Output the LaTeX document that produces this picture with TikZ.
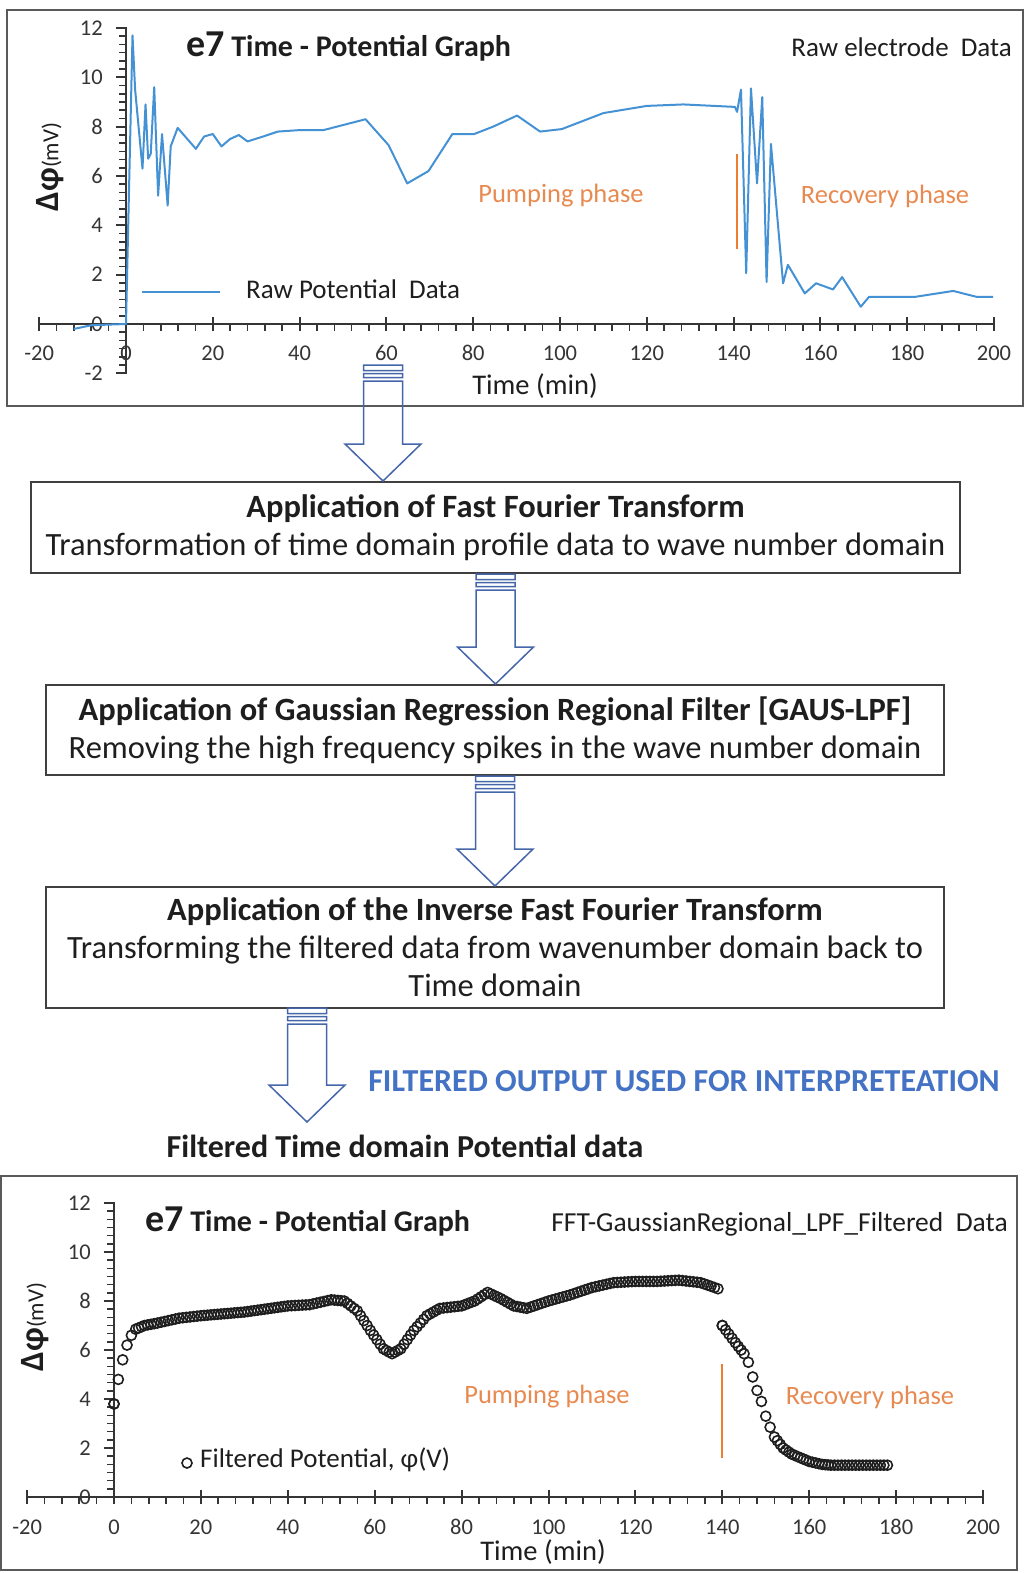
\documentclass[tikz,border=0pt]{standalone}
\usepackage{fontspec}
\setmainfont{Carlito}
\usetikzlibrary{calc}

\definecolor{rawblue}{RGB}{68,145,212}
\definecolor{phaseorange}{RGB}{237,125,49}
\definecolor{phasetext}{RGB}{232,138,80}
\definecolor{arrowblue}{RGB}{70,102,170}
\definecolor{notecolor}{RGB}{68,114,196}
\definecolor{framegray}{RGB}{90,90,90}
\definecolor{inkgray}{RGB}{30,30,30}

% hollow striped block arrow from a tail point #1 down to a tip point #2
\newcommand\flowarrow[2]{%
  \draw[arrowline] let \p1=(#1), \p2=(#2) in
    (\x1-19.5pt,\y1) rectangle (\x1+19.5pt,\y1-5.5pt)
    (\x1-19.5pt,\y1-8.5pt) rectangle (\x1+19.5pt,\y1-12.5pt)
    (\x1-19.5pt,\y1-16pt) -- (\x1-19.5pt,\y2+37pt) -- (\x1-38pt,\y2+37pt)
    -- (\x1,\y2) -- (\x1+38pt,\y2+37pt) -- (\x1+19.5pt,\y2+37pt)
    -- (\x1+19.5pt,\y1-16pt) -- cycle;}

\tikzset{
  frame/.style={draw=framegray, line width=2pt, inner sep=0pt},
  stepbox/.style={draw=inkgray!85, line width=2pt, inner sep=0pt, align=center,
    text=inkgray, font=\fontsize{32.5}{38}\selectfont},
  arrowline/.style={draw=arrowblue, line width=1.5pt, line join=miter},
  axisline/.style={draw=inkgray!90, line width=2pt},
  tickline/.style={draw=inkgray!90, line width=1.6pt},
  ticklabel/.style={inner sep=0pt, text=inkgray!90, font=\fontsize{22.5}{22.5}\selectfont},
  phase/.style={inner sep=0pt, text=phasetext, font=\fontsize{26.5}{26.5}\selectfont},
  plaintext/.style={inner sep=0pt, text=inkgray, font=\fontsize{27}{27}\selectfont},
  fmark/.style={draw=inkgray, line width=1.6pt},
}

\begin{document}
\begin{tikzpicture}[x=1pt, y=-1pt]
\useasboundingbox (0,0) rectangle (1028,1573);

% ---------- raw electrode chart ----------
\node[frame, minimum width=1016pt, minimum height=396pt] (rawplot) at (515,208) {};

\begin{scope}[shift={(126,324)}, x=4.34pt, y=24.67pt]
  % axes and ticks
  \foreach \k in {-6,...,36} \draw[tickline] (-1.6,\k/3) -- (0,\k/3);
  \foreach \t in {-16,-12,...,196} \draw[tickline] (\t,0) -- (\t,-0.28);
  \foreach \v in {-2,0,...,12} \draw[axisline] (-2.4,\v) -- (0.3,\v);
  \foreach \t in {-20,0,...,200} \draw[axisline] (\t,-0.3) -- (\t,0.3);
  \draw[axisline] (-20,0) -- (200,0);
  \draw[axisline] (0,-2) -- (0,12);
  \foreach \v in {-2,0,...,12} \node[ticklabel, anchor=east] at (-5.3,\v) {\v};
  \foreach \t in {-20,0,...,200} \node[ticklabel] at (\t,-1.18) {\t};
  % raw potential trace
  \draw[rawblue, line width=2pt, line join=round]
    (-12,-0.2) -- (-8,-0.05) -- (0,0) -- (1.5,11.7) -- (2.1,9.5) -- (3.8,6.3)
    -- (4.5,8.9) -- (5.1,6.7) -- (5.7,6.9) -- (6.5,9.6) -- (7.4,5.2) -- (8.3,7.7)
    -- (9.6,4.8) -- (10.3,7.2) -- (11.9,7.95) -- (16.1,7.1) -- (18,7.6) -- (20,7.7)
    -- (22,7.2) -- (24,7.5) -- (26,7.66) -- (28,7.4) -- (31.6,7.6) -- (35,7.8)
    -- (40,7.86) -- (45.5,7.86) -- (50.8,8.1) -- (55.2,8.3) -- (60.5,7.25)
    -- (64.8,5.7) -- (69.7,6.2) -- (75.2,7.7) -- (80.2,7.7) -- (84.6,8.0)
    -- (90.1,8.45) -- (95.4,7.8) -- (100.4,7.9) -- (110,8.55) -- (120,8.84)
    -- (128.4,8.9) -- (140.3,8.8) -- (140.8,8.6) -- (141.7,9.5) -- (142.9,2.06)
    -- (144,9.55) -- (145.4,5.7) -- (146.6,9.2) -- (147.6,1.7) -- (148.6,7.3)
    -- (151.4,1.65) -- (152.5,2.4) -- (156.4,1.24) -- (159,1.65) -- (162.9,1.4)
    -- (165,1.9) -- (169.3,0.7) -- (171.2,1.1) -- (181.8,1.1) -- (190.6,1.34)
    -- (196,1.1) -- (199.8,1.1);
  % phase boundary
  \draw[phaseorange, line width=2pt] (140.7,6.9) -- (140.7,3.05);
\end{scope}

\node[inner sep=0pt, anchor=base west, text=inkgray] (rawtitle) at (186,57)
  {\fontsize{38}{38}\selectfont\bfseries e7\fontsize{30}{30}\selectfont{} Time - Potential Graph};
\node[plaintext, anchor=base east] (rawtag) at (1012,57) {Raw electrode\ \ Data};
\node[phase] (rawpump) at (561,196) {Pumping phase};
\node[phase] (rawrecov) at (885,196) {Recovery phase};
\draw[rawblue, line width=2pt] (142,292) -- (220,292);
\node[plaintext, anchor=west] (rawlegend) at (246,289) {Raw Potential\ \ Data};
\node[plaintext, font=\fontsize{28.5}{28.5}\selectfont] (rawxlabel) at (535,386) {Time (min)};
\node[inner sep=0pt, rotate=90, text=inkgray] (rawylabel) at (50,167)
  {\fontsize{34}{34}\selectfont\bfseries Δφ\fontsize{23}{23}\selectfont\mdseries(mV)};

% ---------- processing steps ----------
\node[stepbox, minimum width=929pt, minimum height=91pt] (fft) at (495.5,527.5)
  {\textbf{Application of Fast Fourier Transform}\\
   Transformation of time domain profile data to wave number domain};
\node[stepbox, minimum width=898pt, minimum height=90pt] (gauss) at (495,730)
  {\textbf{Application of Gaussian Regression Regional Filter [GAUS-LPF]}\\
   Removing the high frequency spikes in the wave number domain};
\node[stepbox, minimum width=898pt, minimum height=121pt] (ifft) at (495,947.5)
  {\textbf{Application of the Inverse Fast Fourier Transform}\\
   Transforming the filtered data from wavenumber domain back to\\
   Time domain};

\node[inner sep=0pt, text=inkgray, font=\fontsize{32}{32}\selectfont\bfseries]
  (filtlabel) at (405,1146) {Filtered Time domain Potential data};
\node[inner sep=0pt, text=notecolor, font=\fontsize{32}{32}\selectfont\bfseries]
  (usenote) at (684,1081) {FILTERED OUTPUT USED FOR INTERPRETEATION};

\coordinate (a1) at (383,365);
\coordinate (a4) at (307,1008);
\coordinate (a4tip) at (307,1122);
\flowarrow{a1}{fft.north -| a1}
\flowarrow{fft.south}{gauss.north}
\flowarrow{gauss.south}{ifft.north}
\flowarrow{a4}{a4tip}

% ---------- filtered chart ----------
\node[frame, minimum width=1016pt, minimum height=394pt] (filtplot) at (509,1373) {};

\begin{scope}[shift={(114,1497)}, x=4.345pt, y=24.5pt]
  \foreach \k in {0,...,36} \draw[tickline] (-1.6,\k/3) -- (0,\k/3);
  \foreach \t in {-16,-12,...,196} \draw[tickline] (\t,0) -- (\t,-0.28);
  \foreach \v in {0,2,...,12} \draw[axisline] (-2.4,\v) -- (0.3,\v);
  \foreach \t in {-20,0,...,200} \draw[axisline] (\t,-0.3) -- (\t,0.3);
  \draw[axisline] (-20,0) -- (200,0);
  \draw[axisline] (0,-0.2) -- (0,12);
  \foreach \v in {0,2,...,12} \node[ticklabel, anchor=east] at (-5.3,\v) {\v};
  \foreach \t in {-20,0,...,200} \node[ticklabel] at (\t,-1.22) {\t};
  % filtered potential samples, pumping phase
  \foreach \t/\v [remember=\t as \tp (initially 0), remember=\v as \vp (initially 3.8)] in
    {0/3.8, 1/4.8, 2/5.6, 3/6.2, 4/6.6, 5/6.85, 7/7.0, 10/7.1, 15/7.3, 20/7.4,
     30/7.55, 40/7.8, 45/7.85, 50/8.05, 53/8.0, 56/7.6, 59/6.8, 62/6.05, 64/5.85,
     66/6.05, 69/6.8, 72/7.4, 75/7.7, 80/7.8, 83/8.0, 86/8.35, 89/8.1, 92/7.8,
     95/7.7, 100/8.0, 105/8.25, 110/8.55, 115/8.75, 120/8.8, 125/8.8, 130/8.85,
     135/8.75, 139/8.5}
  {
    \pgfmathtruncatemacro\nseg{max(1,round((\t-\tp)/0.8))}
    \foreach \k in {1,...,\nseg} {
      \pgfmathsetmacro\tx{\tp+(\k-1)*(\t-\tp)/\nseg}
      \pgfmathsetmacro\vy{\vp+(\k-1)*(\v-\vp)/\nseg}
      \draw[fmark] (\tx,\vy) circle[radius=5pt];
    }
  }
  \draw[fmark] (139,8.5) circle[radius=5pt];
  % filtered potential samples, recovery phase
  \foreach \t/\v [remember=\t as \tp (initially 140), remember=\v as \vp (initially 7.0)] in
    {140/7.0, 143/6.3, 145/5.85, 146/5.5, 147/4.9, 148/4.35, 149/3.9, 150/3.3,
     151/2.85, 152/2.45, 154/2.0, 156/1.75, 158/1.6, 160/1.45, 163/1.33, 165/1.3,
     178/1.3}
  {
    \pgfmathtruncatemacro\nseg{max(1,round((\t-\tp)/0.8))}
    \foreach \k in {1,...,\nseg} {
      \pgfmathsetmacro\tx{\tp+(\k-1)*(\t-\tp)/\nseg}
      \pgfmathsetmacro\vy{\vp+(\k-1)*(\v-\vp)/\nseg}
      \draw[fmark] (\tx,\vy) circle[radius=5pt];
    }
  }
  \draw[fmark] (178,1.3) circle[radius=5pt];
  % phase boundary
  \draw[phaseorange, line width=2pt] (140,5.43) -- (140,1.6);
\end{scope}

\node[inner sep=0pt, anchor=base west, text=inkgray] (filttitle) at (145,1231)
  {\fontsize{38}{38}\selectfont\bfseries e7\fontsize{30}{30}\selectfont{} Time - Potential Graph};
\node[plaintext, anchor=base east, font=\fontsize{27.5}{27.5}\selectfont] (filttag) at (1008,1231)
  {FFT-GaussianRegional\_LPF\_Filtered\ \ Data};
\node[phase] (filtpump) at (547,1397) {Pumping phase};
\node[phase] (filtrecov) at (870,1397) {Recovery phase};
\draw[fmark] (187,1463) circle[radius=5pt];
\node[plaintext, anchor=west] (filtlegend) at (200,1460) {Filtered Potential, φ(V)};
\node[plaintext, font=\fontsize{28.5}{28.5}\selectfont] (filtxlabel) at (543,1552) {Time (min)};
\node[inner sep=0pt, rotate=90, text=inkgray] (filtylabel) at (35,1327)
  {\fontsize{34}{34}\selectfont\bfseries Δφ\fontsize{23}{23}\selectfont\mdseries(mV)};
\end{tikzpicture}
\end{document}
